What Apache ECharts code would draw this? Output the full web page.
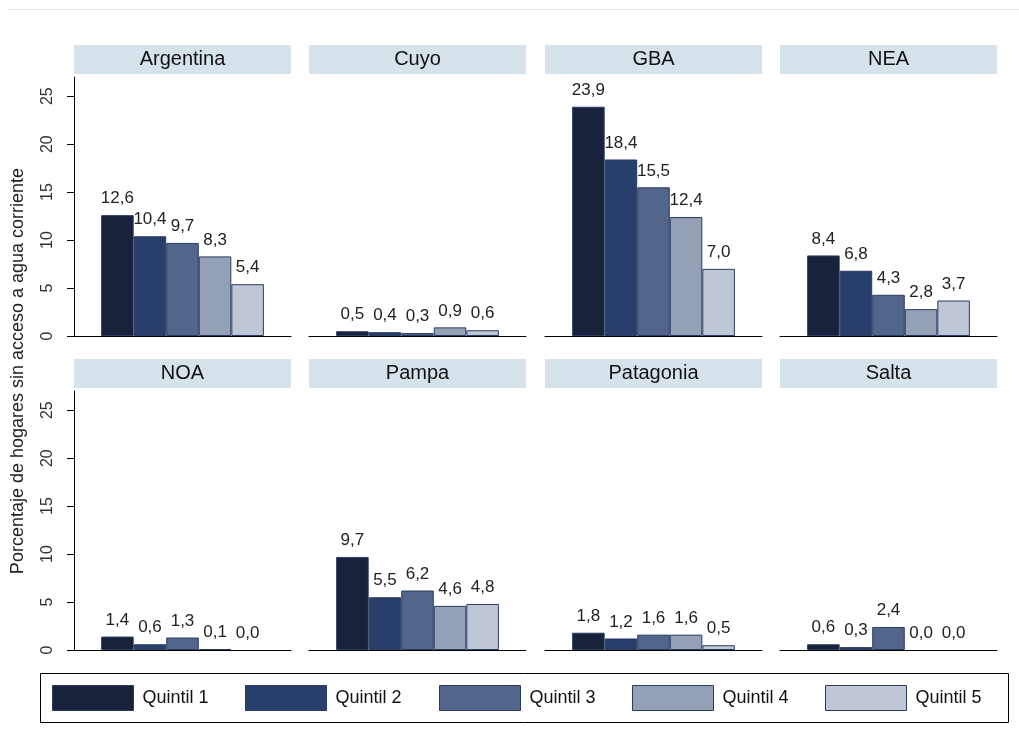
<!DOCTYPE html>
<html>
<head>
<meta charset="utf-8">
<script src="https://cdn.jsdelivr.net/npm/echarts@6/dist/echarts.min.js"></script>
<style>
  html, body { margin: 0; padding: 0; background: #fff; }
  #chart { width: 1019px; height: 749px; }
</style>
</head>
<body>
<div id="chart"></div>
<script>
// Households without running water, by region and income quintile (%)
const regions = ['Argentina', 'Cuyo', 'GBA', 'NEA', 'NOA', 'Pampa', 'Patagonia', 'Salta'];
const quintilNames = ['Quintil 1', 'Quintil 2', 'Quintil 3', 'Quintil 4', 'Quintil 5'];
const quintil1 = [12.6, 0.5, 23.9, 8.4, 1.4, 9.7, 1.8, 0.6];
const quintil2 = [10.4, 0.4, 18.4, 6.8, 0.6, 5.5, 1.2, 0.3];
const quintil3 = [9.7, 0.3, 15.5, 4.3, 1.3, 6.2, 1.6, 2.4];
const quintil4 = [8.3, 0.9, 12.4, 2.8, 0.1, 4.6, 1.6, 0.0];
const quintil5 = [5.4, 0.6, 7.0, 3.7, 0.0, 4.8, 0.5, 0.0];
const yTicks = [0, 5, 10, 15, 20, 25];
const yMax = 27;
const yTitle = 'Porcentaje de hogares sin acceso a agua corriente';

const quintilData = [quintil1, quintil2, quintil3, quintil4, quintil5];
const colors = ['#18223a', '#283e6b', '#52658b', '#94a0b6', '#bfc6d5'];
const borderCol = '#2b3b62';
const FONT = 'Liberation Sans, Arial, sans-serif';

const colLeft = [74, 309, 545, 780];
const rowTop = [77, 391];
const panelW = 217;
const panelH = 259;

const grids = [], xAxes = [], yAxes = [], series = [];

regions.forEach((reg, i) => {
  const r = Math.floor(i / 4), c = i % 4;
  grids.push({ left: colLeft[c], top: rowTop[r], width: panelW, height: panelH });
  // baseline axis
  xAxes.push({
    gridIndex: i, type: 'category', data: [reg], position: 'bottom',
    axisLine: { show: true, lineStyle: { color: '#000', width: 1 } },
    axisTick: { show: false }, axisLabel: { show: false }
  });
  // panel header strip
  xAxes.push({
    gridIndex: i, type: 'category', data: [reg], position: 'top',
    axisLine: { show: false }, axisTick: { show: false },
    axisLabel: {
      show: true, margin: 3, width: panelW, height: 29, lineHeight: 29,
      align: 'center', verticalAlign: 'bottom',
      backgroundColor: '#d6e3ea', color: '#111',
      fontFamily: FONT, fontSize: 20
    }
  });
  const showY = c === 0;
  yAxes.push({
    gridIndex: i, type: 'value', min: 0, max: yMax,
    splitLine: { show: false },
    axisLine: { show: showY, lineStyle: { color: '#000', width: 1 } },
    axisTick: { show: showY, length: 7, customValues: yTicks, lineStyle: { color: '#000' } },
    axisLabel: {
      show: showY, customValues: yTicks, rotate: 90, margin: 18,
      color: '#333', fontFamily: FONT, fontSize: 16
    }
  });
  quintilData.forEach((arr, q) => {
    const v = arr[i];
    series.push({
      type: 'bar', name: quintilNames[q],
      xAxisIndex: i * 2, yAxisIndex: i,
      data: [{ value: v, itemStyle: { borderWidth: v > 0 ? 1 : 0 } }],
      barGap: '0%', barCategoryGap: '25%',
      itemStyle: { color: colors[q], borderColor: borderCol, borderWidth: 1 },
      label: {
        show: true, position: 'top', distance: 8,
        color: '#222', fontFamily: FONT, fontSize: 17,
        formatter: p => p.value.toFixed(1).replace('.', ',')
      },
      animation: false
    });
  });
});

// one legend entry per swatch position
const legendLeft = [47, 240, 434, 627, 820];
const legends = quintilNames.map((n, q) => ({
  data: [n], left: legendLeft[q], top: 680,
  itemWidth: 81, itemHeight: 25, icon: 'rect',
  itemStyle: { borderColor: borderCol, borderWidth: 1 },
  textStyle: { color: '#111', fontFamily: FONT, fontSize: 18, padding: [0, 0, 0, 4] },
  selectedMode: false
}));

const chart = echarts.init(document.getElementById('chart'), null, { renderer: 'canvas' });
chart.setOption({
  backgroundColor: '#fff',
  animation: false,
  grid: grids,
  xAxis: xAxes,
  yAxis: yAxes,
  legend: legends,
  series: series,
  graphic: [
    { type: 'line', shape: { x1: 8, y1: 9.5, x2: 1019, y2: 9.5 }, style: { stroke: '#e2e9ed', lineWidth: 1 } },
    { type: 'rect', shape: { x: 40.5, y: 673.5, width: 968, height: 49 }, style: { fill: 'none', stroke: '#000', lineWidth: 1 } },
    {
      type: 'text', x: 18, y: 371, rotation: Math.PI / 2,
      style: { text: yTitle, fill: '#222', font: '18px ' + FONT, align: 'center', verticalAlign: 'middle' }
    }
  ]
});
</script>
</body>
</html>
